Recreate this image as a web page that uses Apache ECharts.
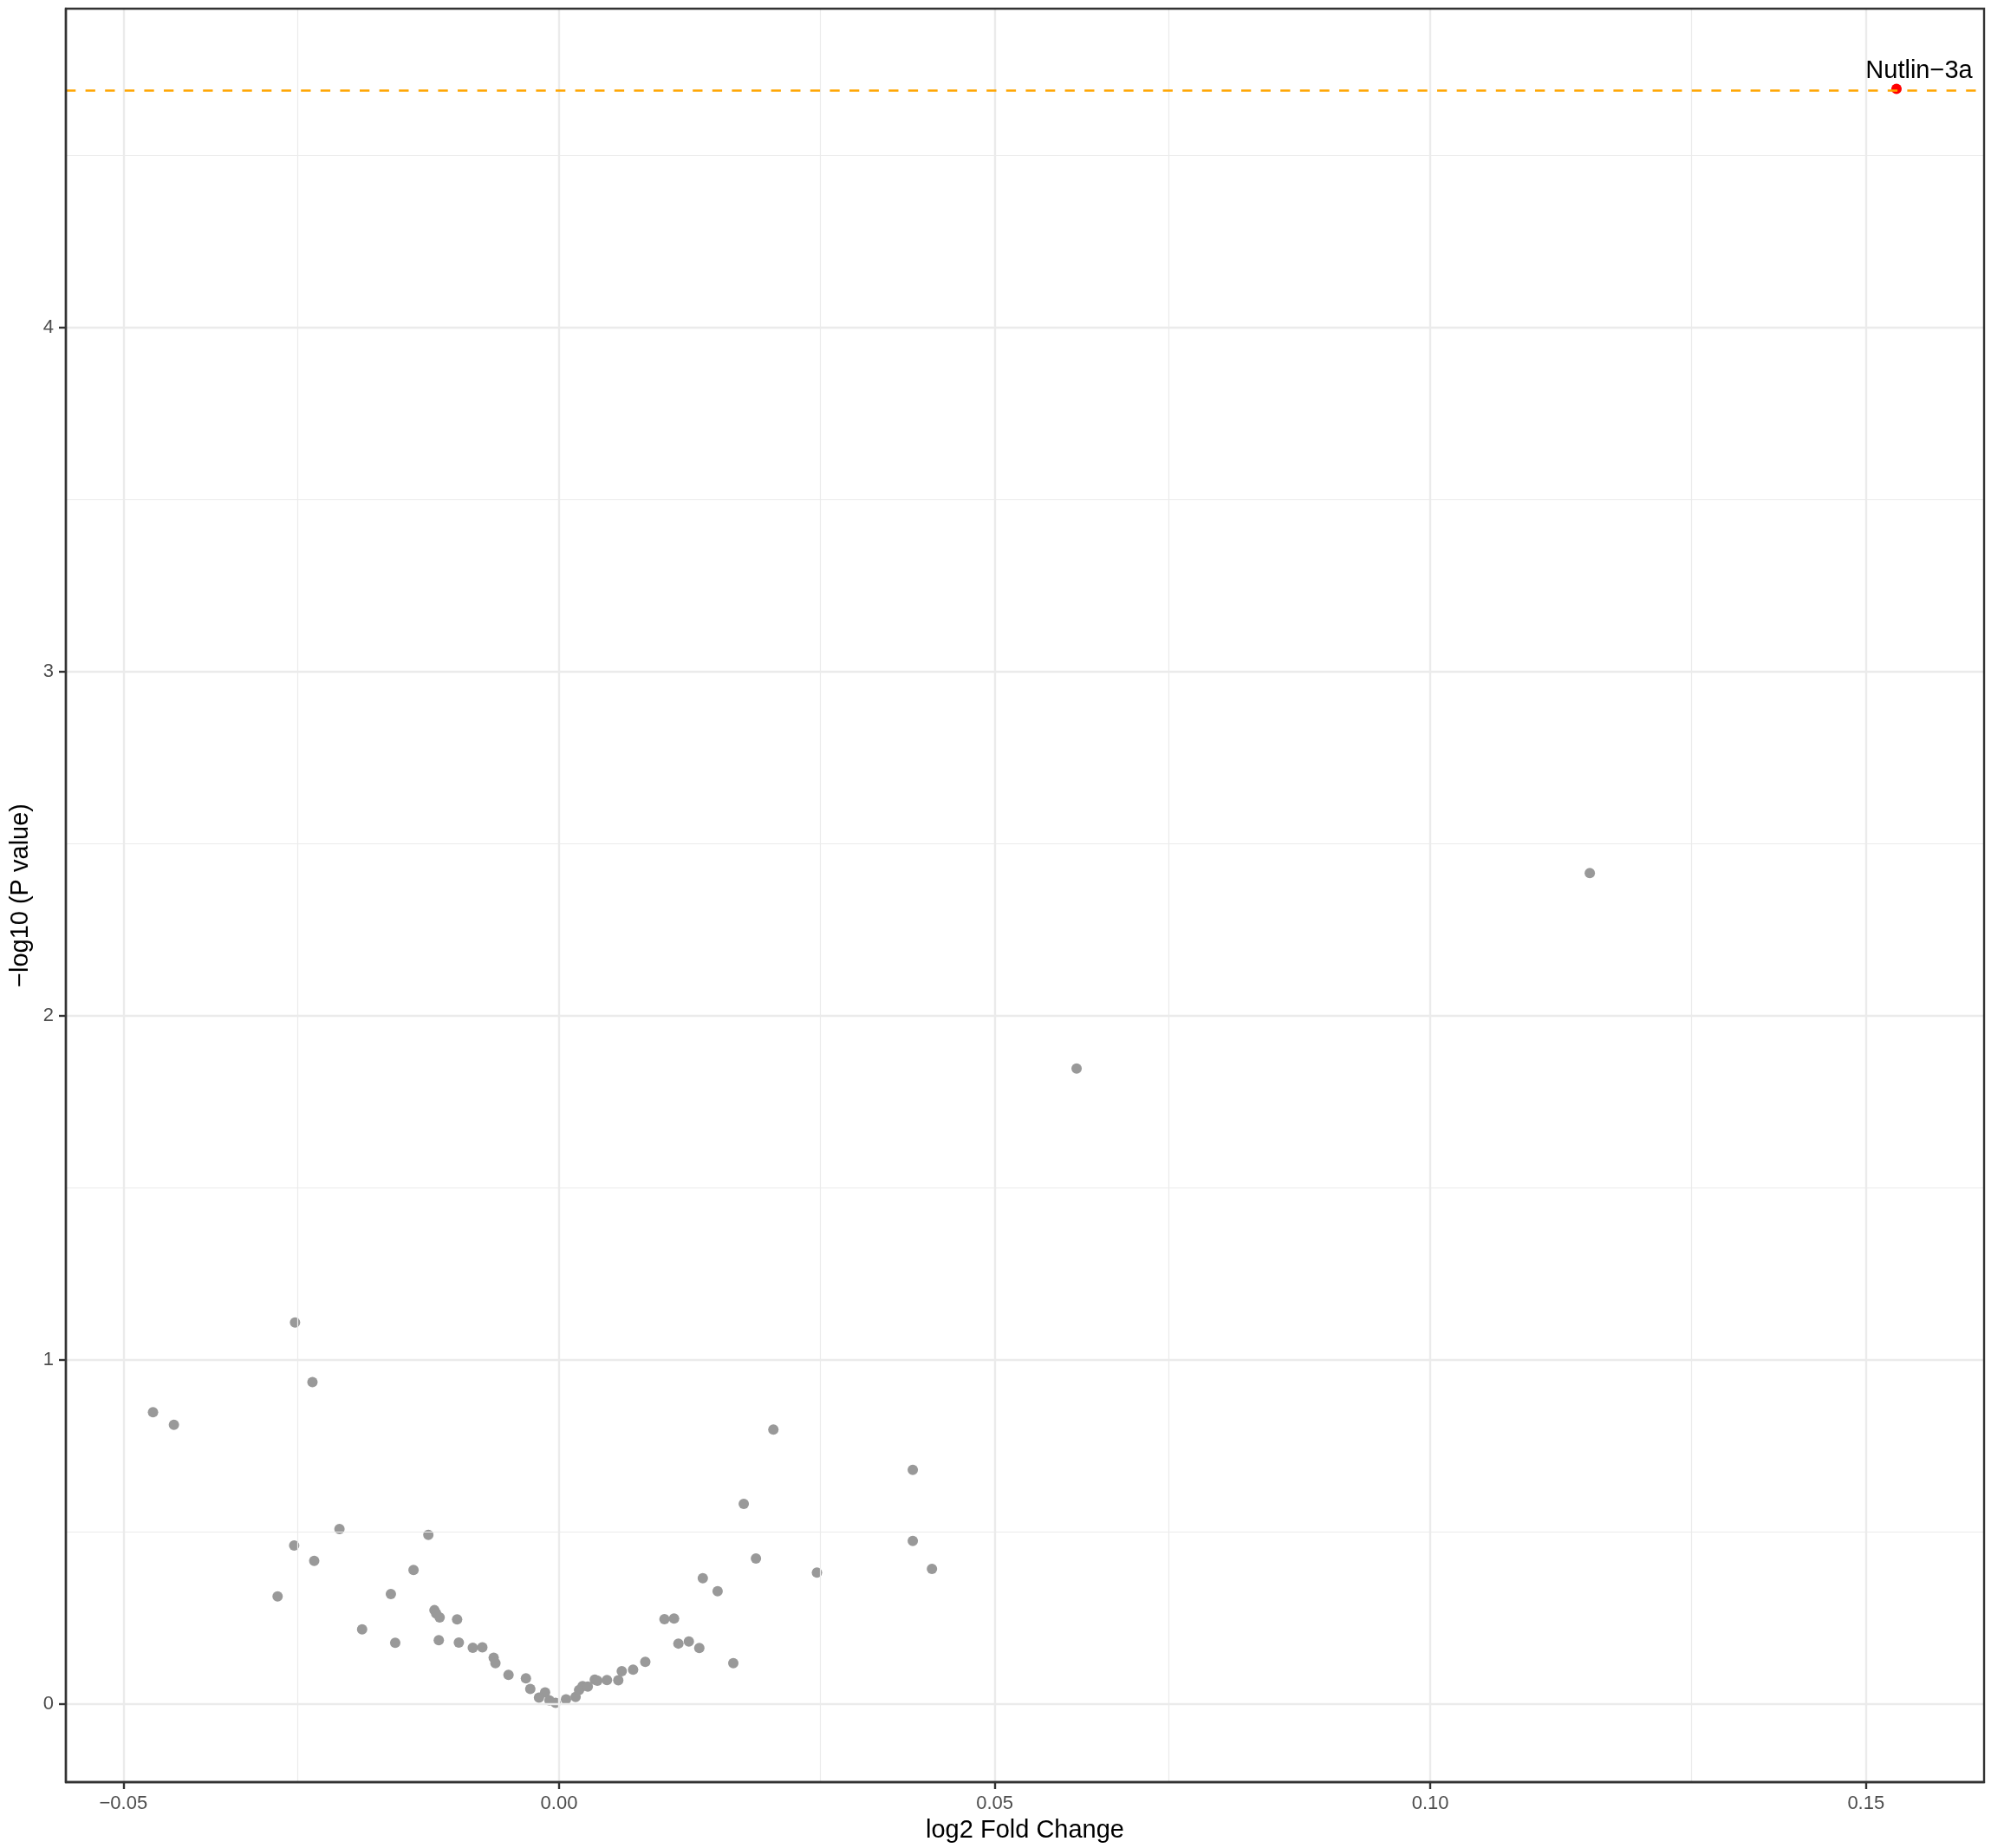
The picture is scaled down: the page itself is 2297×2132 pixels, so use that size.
<!DOCTYPE html>
<html>
<head>
<meta charset="utf-8">
<script src="https://cdn.jsdelivr.net/npm/echarts@6/dist/echarts.min.js"></script>
<style>
html,body{margin:0;padding:0;background:#ffffff;}
#chart{width:2297px;height:2132px;}
</style>
</head>
<body>
<div id="chart"></div>
<script>
// ---- data ----
const log2FC = [
  -0.0303, -0.0283, -0.0466, -0.0442, -0.0252, -0.0150, -0.0304, -0.0281, -0.0167, -0.0323,
  -0.0193, -0.0143, -0.0141, -0.0137, -0.0117, -0.0226, -0.0188, -0.0138, -0.0115, -0.0099,
  -0.0088, -0.0075, -0.0073, -0.0058, -0.0038, -0.0033, -0.0016, -0.0023, -0.0011, -0.0004,
   0.0008,  0.0019,  0.0023,  0.0027,  0.0033,  0.0041,  0.0044,  0.0055,  0.0068,  0.0072,
   0.0085,  0.0099,  0.0200,  0.0161,  0.0149,  0.0137,  0.0132,  0.0121,  0.0182,  0.0165,
   0.0296,  0.0428,  0.0226,  0.0406,  0.0212,  0.0406,  0.0246,  0.0594,  0.1183
];
const negLog10P = [
   1.109,  0.936,  0.848,  0.812,  0.509,  0.492,  0.461,  0.416,  0.390,  0.313,
   0.320,  0.273,  0.263,  0.252,  0.246,  0.217,  0.178,  0.186,  0.179,  0.164,
   0.165,  0.135,  0.119,  0.085,  0.075,  0.044,  0.034,  0.019,  0.011,  0.004,
   0.014,  0.021,  0.041,  0.052,  0.051,  0.071,  0.068,  0.070,  0.069,  0.096,
   0.100,  0.123,  0.119,  0.163,  0.182,  0.176,  0.249,  0.247,  0.328,  0.366,
   0.382,  0.393,  0.423,  0.474,  0.582,  0.681,  0.798,  1.847,  2.415
];
const hitNames = ["Nutlin\u22123a"];
const hitLog2FC = [0.1535];
const hitNegLog10P = [4.694];
const thresholdY = 4.694;

const xTicks = [-0.05, 0, 0.05, 0.10, 0.15];
const xMinorTicks = [-0.025, 0.025, 0.075, 0.125];
const yTicks = [0, 1, 2, 3, 4];
const yMinorTicks = [0.5, 1.5, 2.5, 3.5, 4.5];
const xRange = [-0.0566, 0.16355];
const yRange = [-0.2267, 4.927];

const xTitle = "log2 Fold Change";
const yTitle = "\u2212log10 (P value)";

// ---- chart ----
const FONT = "Liberation Sans, Arial, Helvetica, sans-serif";
const GRID_COL = "#EBEBEB";
const AXIS_COL = "#333333";

const grayPts = log2FC.map((x, i) => [x, negLog10P[i]]);
const hitPts = hitLog2FC.map((x, i) => ({ value: [x, hitNegLog10P[i]], name: hitNames[i] }));

const gridLines = [];
xTicks.forEach(v => gridLines.push({ xAxis: v, lineStyle: { color: GRID_COL, width: 2.4, type: 'solid' } }));
xMinorTicks.forEach(v => gridLines.push({ xAxis: v, lineStyle: { color: GRID_COL, width: 1.2, type: 'solid' } }));
yTicks.forEach(v => gridLines.push({ yAxis: v, lineStyle: { color: GRID_COL, width: 2.4, type: 'solid' } }));
yMinorTicks.forEach(v => gridLines.push({ yAxis: v, lineStyle: { color: GRID_COL, width: 1.2, type: 'solid' } }));

const chart = echarts.init(document.getElementById('chart'), null, { renderer: 'canvas' });
chart.setOption({
  animation: false,
  backgroundColor: '#ffffff',
  textStyle: { fontFamily: FONT },
  grid: {
    left: 76, right: 8, top: 10, bottom: 76,
    containLabel: false,
    outerBoundsMode: 'none',
    show: true,
    z: 10,
    backgroundColor: 'transparent',
    borderColor: AXIS_COL,
    borderWidth: 2.4
  },
  xAxis: {
    type: 'value',
    position: 'bottom',
    min: xRange[0], max: xRange[1],
    z: 10,
    name: xTitle,
    nameLocation: 'middle',
    nameGap: 41,
    nameTextStyle: { fontSize: 29, color: '#000000', fontFamily: FONT },
    axisLine: { show: true, onZero: false, lineStyle: { color: AXIS_COL, width: 2.4 } },
    axisTick: { show: true, customValues: xTicks, length: 8, lineStyle: { color: AXIS_COL, width: 2.4 } },
    axisLabel: {
      show: true, customValues: xTicks, margin: 14,
      fontSize: 22, color: '#4D4D4D', fontFamily: FONT,
      formatter: v => v.toFixed(2).replace('-', '\u2212')
    },
    splitLine: { show: false },
    minorSplitLine: { show: false }
  },
  yAxis: {
    type: 'value',
    position: 'left',
    min: yRange[0], max: yRange[1],
    z: 10,
    name: yTitle,
    nameLocation: 'middle',
    nameGap: 31,
    nameRotate: 90,
    nameTextStyle: { fontSize: 29, color: '#000000', fontFamily: FONT },
    axisLine: { show: true, onZero: false, lineStyle: { color: AXIS_COL, width: 2.4 } },
    axisTick: { show: true, customValues: yTicks, length: 8, lineStyle: { color: AXIS_COL, width: 2.4 } },
    axisLabel: {
      show: true, customValues: yTicks, margin: 14,
      fontSize: 22, color: '#4D4D4D', fontFamily: FONT,
      formatter: v => String(Math.round(v))
    },
    splitLine: { show: false },
    minorSplitLine: { show: false }
  },
  series: [
    {
      type: 'scatter',
      data: [],
      z: 1,
      silent: true,
      markLine: {
        silent: true,
        symbol: ['none', 'none'],
        label: { show: false },
        emphasis: { disabled: true },
        animation: false,
        data: gridLines
      }
    },
    {
      type: 'scatter',
      data: grayPts,
      z: 2,
      symbol: 'circle',
      symbolSize: 12,
      itemStyle: { color: '#999999', opacity: 1 },
      emphasis: { disabled: true }
    },
    {
      type: 'scatter',
      data: [],
      z: 3,
      silent: true,
      markLine: {
        silent: true,
        symbol: ['none', 'none'],
        label: { show: false },
        emphasis: { disabled: true },
        animation: false,
        data: [{ yAxis: thresholdY, lineStyle: { color: '#FFA500', width: 2.7, type: [11.3, 11.3] } }]
      }
    },
    {
      type: 'scatter',
      data: hitPts,
      z: 4,
      symbol: 'circle',
      symbolSize: 12,
      itemStyle: { color: '#FF0000', opacity: 1 },
      emphasis: { disabled: true },
      label: {
        show: true,
        position: 'top',
        distance: 0,
        offset: [26, 0],
        formatter: p => p.name,
        fontSize: 29,
        color: '#000000',
        fontFamily: FONT
      }
    }
  ]
});
</script>
</body>
</html>
